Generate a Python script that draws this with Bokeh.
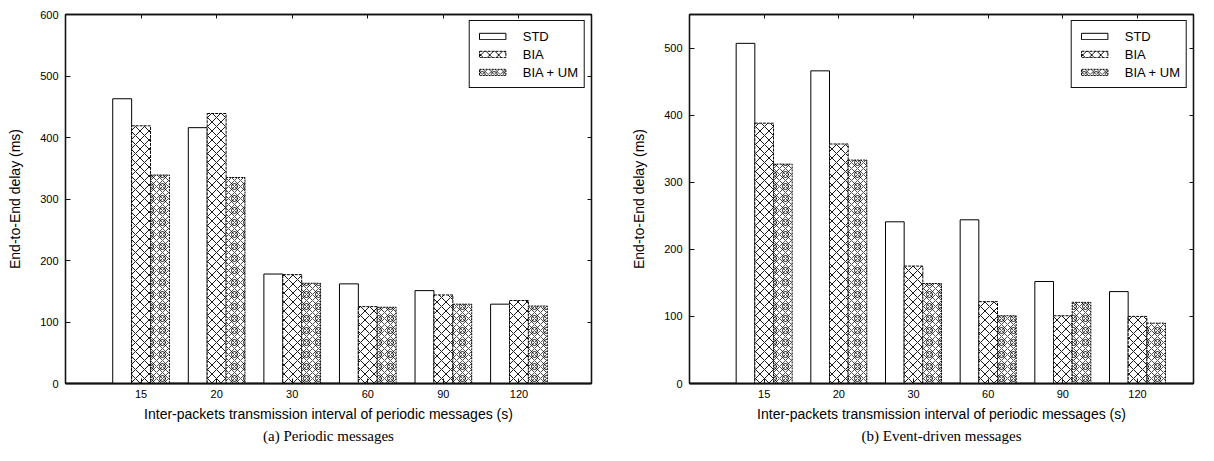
import numpy as np
from bokeh.plotting import figure
from bokeh.layouts import row
from bokeh.models import (ColumnDataSource, LinearAxis, FixedTicker, Legend,
                          LegendItem, Title, Range1d, CustomLabelingPolicy)
from bokeh.embed import file_html
from bokeh.resources import INLINE

# ---------------- data ----------------
categories = ["15", "20", "30", "60", "90", "120"]
series = ["STD", "BIA", "BIA + UM"]

periodic_std = [463, 416, 178, 162, 151, 129]
periodic_bia = [419, 439, 177, 125, 144, 135]
periodic_um = [339, 335, 163, 124, 129, 126]

event_std = [507, 466, 241, 244, 152, 137]
event_bia = [388, 357, 175, 122, 101, 100]
event_um = [327, 333, 149, 101, 121, 90]

x_title = "Inter-packets transmission interval of periodic messages (s)"
y_title = "End-to-End delay (ms)"
captions = ["(a) Periodic messages", "(b) Event-driven messages"]

SANS = "Liberation Sans"
SERIF = "Liberation Serif"
INK = "#111111"


def make_plot(std, bia, um, ymax, caption, width, b_left, b_right, x_end):
    xs = np.arange(1, len(categories) + 1)
    bw = 0.25
    src = ColumnDataSource(dict(
        x_std=xs - bw, x_bia=xs.astype(float), x_um=xs + bw,
        std=std, bia=bia, um=um))

    p = figure(width=width, height=445, output_backend="svg",
               toolbar_location=None, title=None,
               x_range=Range1d(0, x_end), y_range=Range1d(0, ymax),
               min_border_left=b_left, min_border_right=b_right,
               min_border_top=14, min_border_bottom=61)
    p.xgrid.visible = False
    p.ygrid.visible = False
    p.outline_line_color = INK
    p.outline_line_alpha = 1
    p.outline_line_width = 1.3
    p.background_fill_color = "white"
    p.border_fill_color = "white"

    r_std = p.vbar(x="x_std", top="std", width=bw, source=src,
                   fill_color="white", line_color="black", line_width=1)
    r_bia = p.vbar(x="x_bia", top="bia", width=bw, source=src,
                   fill_color="white", line_color="black", line_width=1,
                   line_dash="3 1", hatch_pattern="diagonal_cross",
                   hatch_color="black", hatch_scale=9, hatch_weight=0.9)
    r_um1 = p.vbar(x="x_um", top="um", width=bw, source=src,
                   fill_color="white", line_color=None,
                   hatch_pattern="diagonal_cross",
                   hatch_color="black", hatch_scale=6, hatch_weight=0.7)
    r_um2 = p.vbar(x="x_um", top="um", width=bw, source=src,
                   fill_alpha=0, line_color="black", line_width=1,
                   line_dash="2 1", hatch_pattern="ring",
                   hatch_color="black", hatch_scale=12, hatch_weight=0.9)

    yticks = list(range(0, ymax + 1, 100))
    overrides = {int(x): c for x, c in zip(xs, categories)}

    xa = p.xaxis[0]
    xa.ticker = FixedTicker(ticks=[int(x) for x in xs])
    xa.major_label_overrides = overrides
    xa.axis_label = x_title
    ya = p.yaxis[0]
    ya.ticker = FixedTicker(ticks=yticks)
    ya.axis_label = y_title

    for ax in (xa, ya):
        ax.major_tick_in = 5
        ax.major_tick_out = 0
        ax.minor_tick_line_color = None
        ax.axis_line_color = INK
        ax.axis_line_width = 1.3
        ax.major_tick_line_color = INK
        ax.major_label_text_font = SANS
        ax.major_label_text_font_size = "11px"
        ax.major_label_text_color = "black"
        ax.axis_label_text_font = SANS
        ax.axis_label_text_font_size = "14px"
        ax.axis_label_text_font_style = "normal"
        ax.axis_label_text_color = "black"
    xa.axis_line_width = 2
    xa.major_label_standoff = 6
    xa.axis_label_standoff = 5
    ya.major_label_standoff = 7
    ya.axis_label_standoff = 14

    hide = "for (const i of indices) indices.unset(i)"
    top = LinearAxis(ticker=FixedTicker(ticks=[int(x) for x in xs]))
    right = LinearAxis(ticker=FixedTicker(ticks=yticks))
    for ax in (top, right):
        ax.major_tick_in = 4
        ax.major_tick_out = 0
        ax.minor_tick_line_color = None
        ax.major_label_text_font_size = "1px"
        ax.major_label_policy = CustomLabelingPolicy(code=hide)
        ax.major_label_standoff = 0
        ax.axis_line_color = INK
        ax.axis_line_width = 1.3
        ax.major_tick_line_color = INK
    p.add_layout(top, "above")
    p.add_layout(right, "right")

    legend = Legend(items=[
        LegendItem(label=series[0], renderers=[r_std]),
        LegendItem(label=series[1], renderers=[r_bia]),
        LegendItem(label=series[2], renderers=[r_um1, r_um2]),
    ], location="top_right")
    legend.margin = 6
    legend.padding = 6
    legend.spacing = 0
    legend.glyph_width = 33
    legend.glyph_height = 8
    legend.label_height = 18
    legend.label_standoff = 14
    legend.label_text_font = SANS
    legend.label_text_font_size = "13px"
    legend.label_text_color = "black"
    legend.border_line_color = INK
    legend.border_line_width = 1.2
    legend.border_line_alpha = 1
    legend.background_fill_alpha = 1
    p.add_layout(legend)

    cap = Title(text=caption, align="center", text_font=SERIF,
                text_font_size="15px", text_font_style="normal",
                text_color="black", standoff=3)
    p.add_layout(cap, "below")
    return p


p1 = make_plot(periodic_std, periodic_bia, periodic_um, 600, captions[0],
               width=611, b_left=65, b_right=20, x_end=6.96)
p2 = make_plot(event_std, event_bia, event_um, 550, captions[1],
               width=587, b_left=78, b_right=0, x_end=6.75)

layout = row(p1, p2)
open("out.html", "w").write(file_html(layout, INLINE))
